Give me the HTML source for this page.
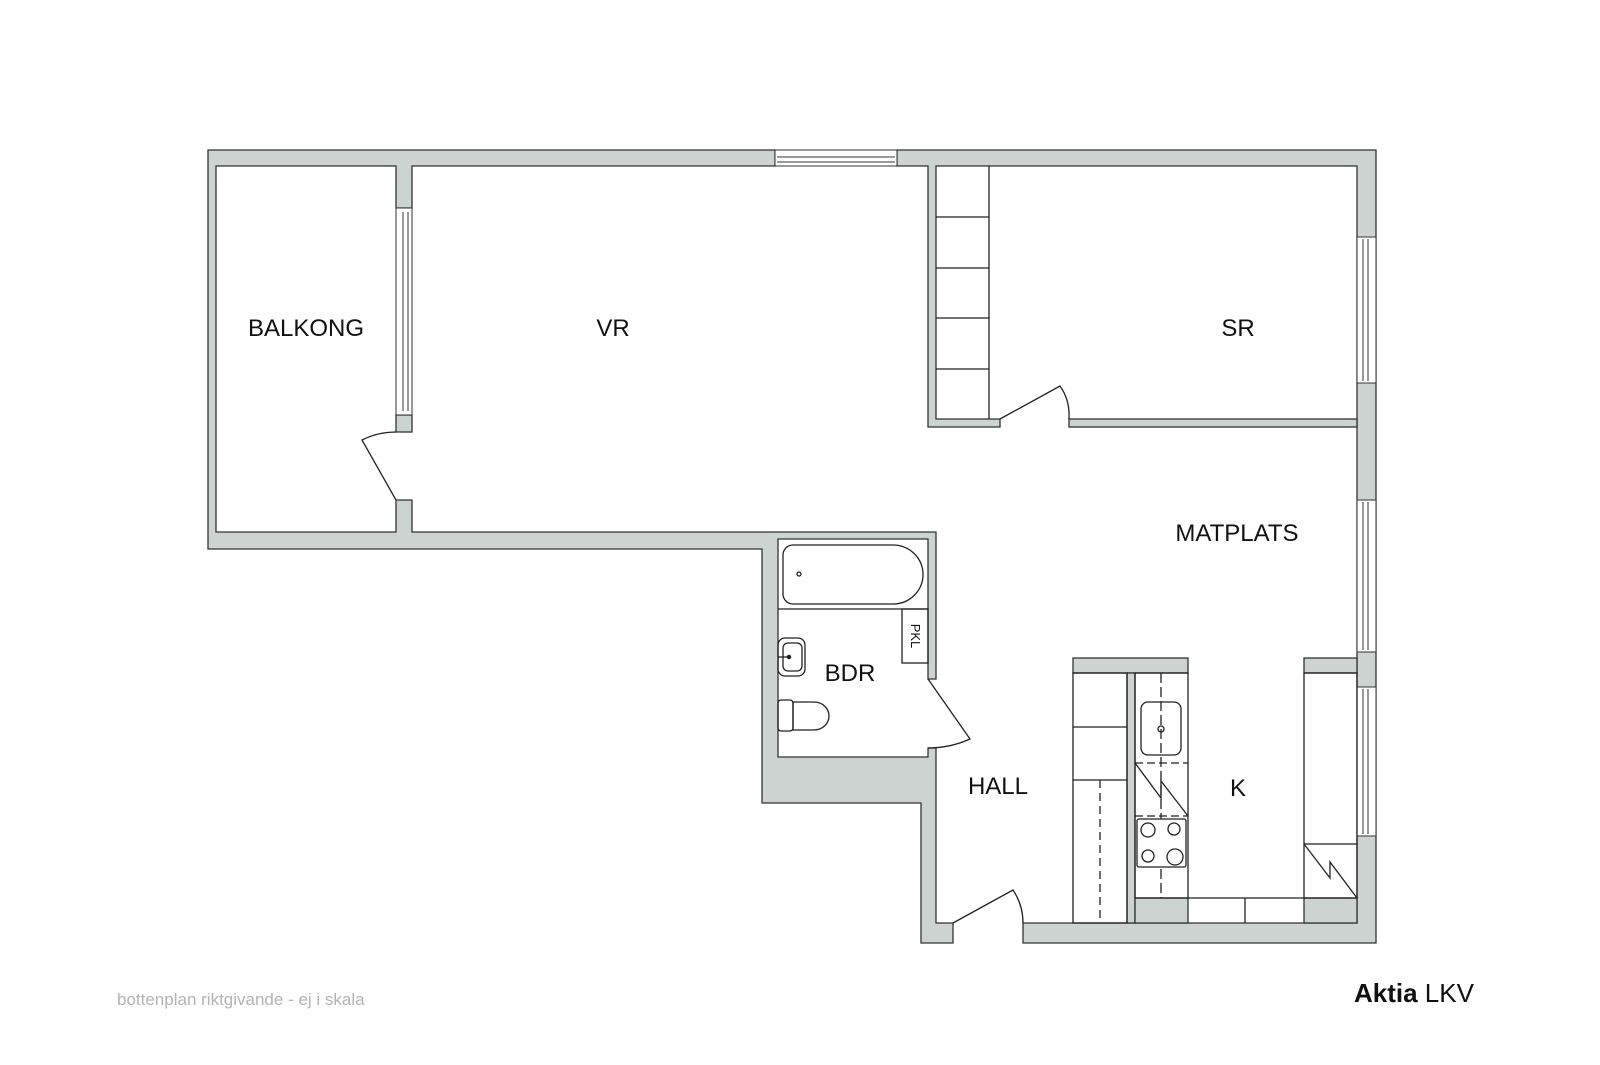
<!DOCTYPE html>
<html><head><meta charset="utf-8"><style>
html,body{margin:0;padding:0;background:#fff;}
svg{display:block;}
text{font-family:"Liberation Sans",Arial,sans-serif;}
</style></head><body>
<svg width="1600" height="1065" viewBox="0 0 1600 1065" xmlns="http://www.w3.org/2000/svg">
<g fill="#cdd3d1" stroke="#333" stroke-width="1.3">
<!-- outer shell left -->
<path d="M208 150 H775 V166 H412 V208 H396 V166 H216 V532 H396 V500 H412 V532 H936 V679 H928 V539 H778 V757 H928 V748 H936 V923 H953 V943 H921 V803 H762 V549 H208 Z"/>
<path d="M897 150 H1376 V943 H1023 V923 H1357 V166 H936 V419 H1000 V427 H928 V166 H897 Z"/>
<rect x="396" y="415" width="16" height="17"/>
<!-- SR bottom wall -->
<rect x="1069" y="419" width="288" height="8"/>
<!-- kitchen grey blocks -->
<rect x="1073" y="658" width="115" height="15"/>
<rect x="1127" y="673" width="8" height="250"/>
<rect x="1135" y="898" width="53" height="25"/>
<rect x="1304" y="658" width="53" height="15"/>
<rect x="1304" y="898" width="53" height="25"/>
</g>
<!-- windows -->
<g fill="#fff" stroke="#333" stroke-width="1">
<rect x="775" y="150" width="122" height="16"/>
<line x1="777" y1="157" x2="895" y2="157"/><line x1="777" y1="162" x2="895" y2="162"/>
<rect x="396" y="208" width="16" height="207"/>
<line x1="403" y1="212" x2="403" y2="411"/><line x1="408" y1="212" x2="408" y2="411"/>
<rect x="1357" y="237" width="19" height="146"/>
<line x1="1363" y1="239" x2="1363" y2="381"/><line x1="1368" y1="239" x2="1368" y2="381"/>
<rect x="1357" y="500" width="19" height="152"/>
<line x1="1363" y1="502" x2="1363" y2="650"/><line x1="1368" y1="502" x2="1368" y2="650"/>
<rect x="1357" y="687" width="19" height="149"/>
<line x1="1363" y1="689" x2="1363" y2="834"/><line x1="1368" y1="689" x2="1368" y2="834"/>
</g>
<g fill="none" stroke="#222" stroke-width="1.3">
<!-- wardrobe -->
<line x1="989" y1="166" x2="989" y2="419"/>
<line x1="936" y1="217" x2="989" y2="217"/><line x1="936" y1="268" x2="989" y2="268"/>
<line x1="936" y1="318" x2="989" y2="318"/><line x1="936" y1="369" x2="989" y2="369"/>
<!-- doors -->
<path d="M396 500 L362 440 Q378 432 396 432"/>
<path d="M1000 419 L1060 386 Q1070 400 1069 419"/>
<path d="M928 679 L970 739 Q950 748 928 748"/>
<path d="M953 923 L1013 890 Q1023 905 1023 923"/>
<!-- bathroom -->
<path d="M793 545 H893 A30 29.5 0 0 1 893 604 H793 A10 10 0 0 1 783 594 V555 A10 10 0 0 1 793 545 Z"/>
<circle cx="799" cy="574" r="2"/>
<line x1="778" y1="609" x2="928" y2="609"/>
<rect x="902" y="609" width="26" height="54"/>
<rect x="778" y="638" width="27" height="38" rx="7"/>
<rect x="783" y="643" width="19" height="28" rx="5"/>
<line x1="778" y1="657" x2="789" y2="657"/>
<circle cx="789" cy="657" r="1.6" fill="#222"/>
<rect x="778" y="700" width="15" height="31" rx="3"/>
<path d="M793 702 H814 A15 14 0 0 1 814 730 H793 Z"/>
<!-- kitchen -->
<rect x="1073" y="673" width="54" height="250"/>
<line x1="1073" y1="727" x2="1127" y2="727"/><line x1="1073" y1="780" x2="1127" y2="780"/>
<line x1="1100" y1="780" x2="1100" y2="923" stroke-dasharray="8 5"/>
<rect x="1135" y="673" width="53" height="225"/>
<line x1="1161" y1="673" x2="1161" y2="898" stroke-dasharray="10 4"/>
<rect x="1141" y="702" width="40" height="53" rx="7"/>
<circle cx="1161" cy="729" r="3"/>
<line x1="1135" y1="763" x2="1188" y2="763" stroke-dasharray="8 4"/>
<line x1="1135" y1="816" x2="1188" y2="816" stroke-dasharray="8 4"/>
<path d="M1135 763 L1161 798 L1161 781 L1188 816"/>
<rect x="1137" y="819" width="49" height="48" rx="2" fill="#fff"/>
<circle cx="1148" cy="830" r="7"/><circle cx="1174" cy="829" r="6"/>
<circle cx="1148" cy="856" r="6"/><circle cx="1175" cy="857" r="8"/>
<line x1="1188" y1="898" x2="1304" y2="898"/>
<line x1="1245" y1="898" x2="1245" y2="923"/>
<rect x="1304" y="673" width="53" height="225"/>
<line x1="1304" y1="844" x2="1357" y2="844"/>
<path d="M1304 844 L1330 878 L1330 862 L1357 898"/>
</g>
<!-- labels -->
<g fill="#111" font-size="24" text-anchor="middle">
<text x="306" y="336">BALKONG</text>
<text x="613" y="336">VR</text>
<text x="1238" y="336">SR</text>
<text x="1237" y="541">MATPLATS</text>
<text x="850" y="681">BDR</text>
<text x="998" y="794">HALL</text>
<text x="1238" y="796">K</text>
</g>
<text x="915" y="636" font-size="13" fill="#111" text-anchor="middle" transform="rotate(90 915 636)" dy="4">PKL</text>
<text x="117" y="1005" font-size="17" fill="#b4b4b4">bottenplan riktgivande - ej i skala</text>
<text x="1354" y="1002" font-size="26" fill="#111"><tspan font-weight="bold">Aktia</tspan> LKV</text>
</svg>
</body></html>
